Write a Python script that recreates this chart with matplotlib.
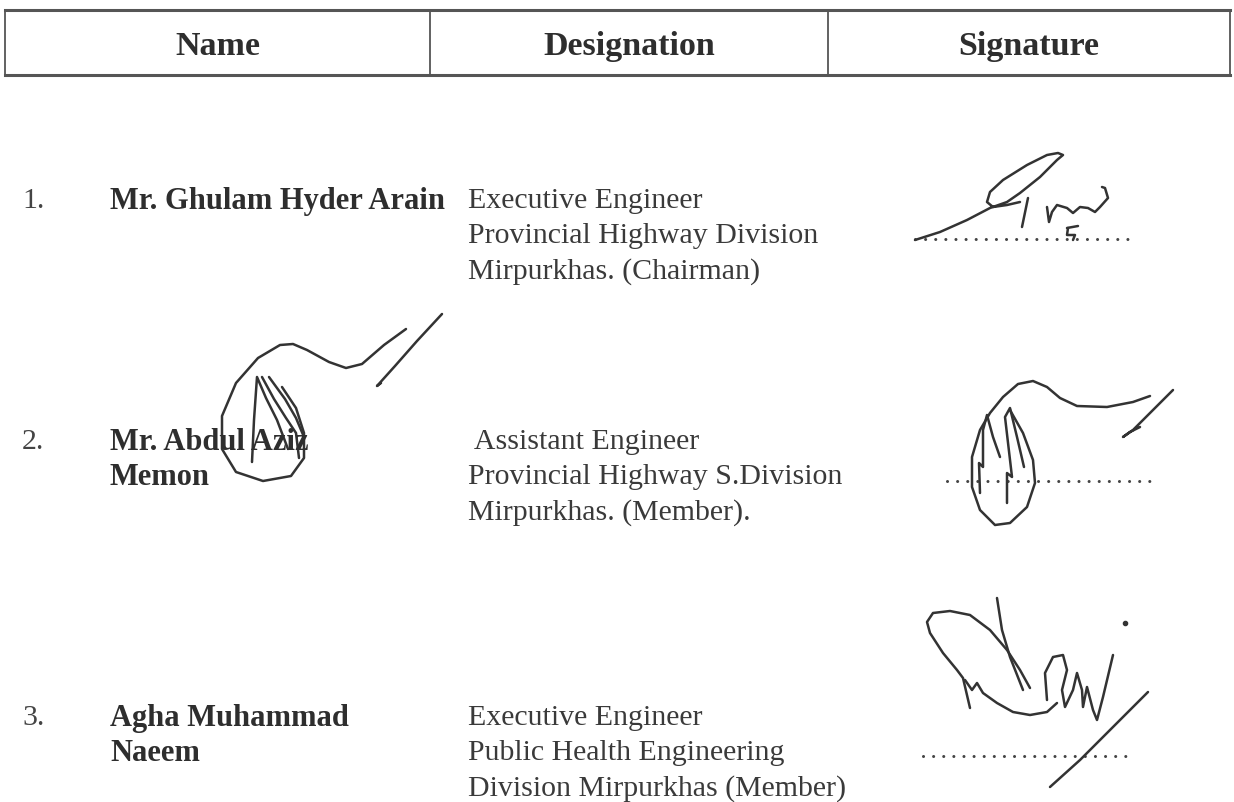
import numpy as np
import matplotlib
matplotlib.use("Agg")
from matplotlib import pyplot as plt

# Tabelle: Kopfzeile und drei Einträge
headers = ["Name", "Designation", "Signature"]
col_edges = [5, 430, 828, 1230]

row_numbers = ["1.", "2.", "3."]
names = [["Mr. Ghulam Hyder Arain"],
         ["Mr. Abdul Aziz", "Memon"],
         ["Agha Muhammad", "Naeem"]]
designations = [["Executive Engineer", "Provincial Highway Division", "Mirpurkhas. (Chairman)"],
                [" Assistant Engineer", "Provincial Highway S.Division", "Mirpurkhas. (Member)."],
                ["Executive Engineer", "Public Health Engineering", "Division Mirpurkhas (Member)"]]
row_top = [198, 439, 715]

# gepunktete Unterschriftslinien: (x0, x1, y)
sign_lines = [(915, 1128, 239), (947, 1150, 481), (923, 1127, 756)]

sig1 = [
    [(915, 240), (940, 232), (967, 220), (990, 208), (1007, 202), (1020, 193), (1040, 177), (1057, 160),
     (1063, 155), (1058, 153), (1047, 155), (1027, 165), (1003, 180), (990, 192), (987, 202), (993, 207),
     (1007, 205), (1020, 202)],
    [(1028, 198), (1022, 227)],
    [(1047, 207), (1049, 222), (1052, 212), (1057, 205), (1067, 208), (1073, 213), (1080, 207), (1088, 208),
     (1095, 212), (1100, 207), (1108, 198), (1105, 188), (1102, 187)],
    [(1067, 228), (1078, 226)],
    [(1068, 228), (1067, 235), (1075, 235), (1073, 240)],
]
sig2 = [
    [(1010, 410), (1023, 433), (1033, 460), (1035, 483), (1027, 507), (1010, 523), (995, 525), (980, 510),
     (972, 487), (972, 457), (980, 430), (990, 413), (1003, 397), (1018, 384), (1033, 381), (1047, 387),
     (1060, 398), (1077, 406), (1107, 407), (1133, 402), (1150, 396)],
    [(1173, 390), (1153, 410), (1133, 430), (1123, 437), (1130, 432), (1140, 427)],
    [(980, 493), (979, 463), (983, 467), (983, 430), (987, 415), (993, 437), (1000, 457)],
    [(1007, 503), (1007, 473), (1012, 477), (1005, 417), (1010, 408), (1017, 437), (1024, 467)],
]
# zweite Unterschrift über dem Namen "Mr. Abdul Aziz"
sig2_name = [
    [(282, 387), (296, 408), (304, 433), (304, 458), (291, 476), (263, 481), (236, 472), (222, 449),
     (222, 416), (236, 383), (258, 358), (280, 345), (293, 344), (307, 350), (329, 362), (346, 368),
     (362, 364), (384, 345), (406, 329)],
    [(442, 314), (417, 341), (395, 366), (377, 386), (381, 383)],
    [(252, 462), (254, 420), (257, 377), (266, 398), (277, 420), (288, 449)],
    [(262, 377), (274, 399), (286, 418), (296, 433), (299, 458)],
    [(269, 377), (285, 399), (296, 418), (304, 437)],
]
sig3 = [
    [(970, 708), (963, 678), (957, 670), (943, 653), (930, 633), (927, 622), (933, 613), (950, 611),
     (970, 615), (990, 630), (1007, 650), (1020, 670), (1030, 688)],
    [(965, 680), (972, 690), (977, 683), (983, 693), (997, 703), (1013, 712), (1030, 715), (1047, 712),
     (1057, 703)],
    [(997, 598), (1002, 630), (1010, 657), (1023, 690)],
    [(1047, 700), (1045, 673), (1053, 657), (1063, 655), (1067, 670), (1062, 690), (1065, 707), (1073, 690),
     (1077, 673), (1082, 690), (1083, 707), (1087, 687), (1093, 710), (1097, 720), (1103, 697), (1113, 655)],
    [(1148, 692), (1113, 727), (1080, 760), (1050, 787)],
]
sig3_dot = (1125, 623)

line_gap = 35
ink = "#2e2e2e"

fig = plt.figure(figsize=(12.34, 8.02), dpi=100)
ax = fig.add_axes([0, 0, 1, 1])
ax.set_xlim(0, 1234)
ax.set_ylim(802, 0)
ax.axis("off")

# Kopfzeile
ax.plot([col_edges[0], col_edges[-1]], [10, 10], color="#555555", lw=2.2)
ax.plot([col_edges[0], col_edges[-1]], [75, 75], color="#555555", lw=2.2)
for x in col_edges:
    ax.plot([x, x], [10, 75], color="#555555", lw=1.3)
for i, h in enumerate(headers):
    cx = (col_edges[i] + col_edges[i + 1]) / 2
    ax.text(cx, 43, h, fontsize=24.5, fontweight="bold", family="Liberation Serif",
            ha="center", va="center_baseline", color=ink)

# Zeilen
for i in range(3):
    y0 = row_top[i]
    ax.text(22, y0, row_numbers[i], fontsize=21.5, family="Liberation Serif",
            va="center_baseline", color="#444444")
    for j, n in enumerate(names[i]):
        ax.text(110, y0 + j * line_gap, n, fontsize=22, fontweight="bold", family="Liberation Serif",
                va="center_baseline", color=ink)
    for j, d in enumerate(designations[i]):
        ax.text(468, y0 + j * line_gap, d, fontsize=21.5, family="Liberation Serif",
                va="center_baseline", color="#3a3a3a")
    x0, x1, yl = sign_lines[i]
    ax.plot([x0, x1], [yl, yl], color="#444444", lw=2.2, ls=(0, (0.01, 3.3)), dash_capstyle="round")

for sig in [sig1, sig2, sig2_name, sig3]:
    for stroke in sig:
        xs = [p[0] for p in stroke]
        ys = [p[1] for p in stroke]
        ax.plot(xs, ys, color="#333333", lw=1.8, solid_joinstyle="round", solid_capstyle="round")
ax.plot(sig3_dot[0], sig3_dot[1], "o", color="#333333", ms=3)

fig.savefig("out.png", dpi=100)
